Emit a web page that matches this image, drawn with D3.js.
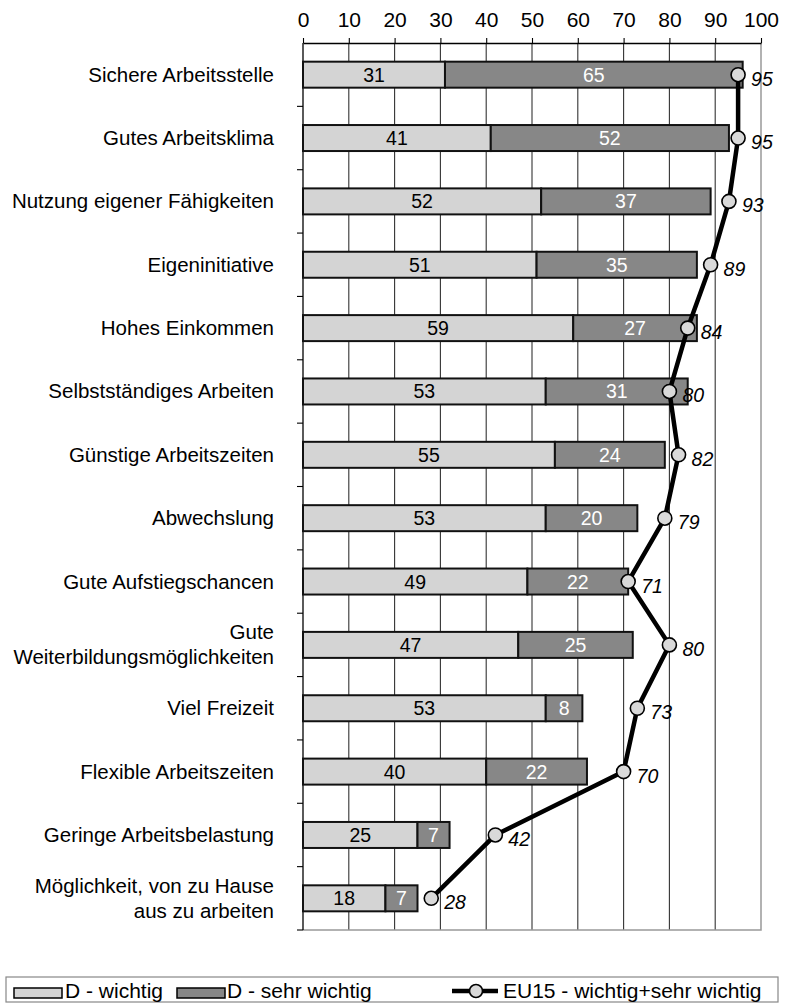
<!DOCTYPE html>
<html>
<head>
<meta charset="utf-8">
<script src="https://cdn.jsdelivr.net/npm/d3@7"></script>
<style>
  body { margin: 0; background: #fff; }
  text { font-family: "Liberation Sans", Arial, sans-serif; }
</style>
</head>
<body>
<script>
// Data
const categories = [
  "Sichere Arbeitsstelle",
  "Gutes Arbeitsklima",
  "Nutzung eigener Fähigkeiten",
  "Eigeninitiative",
  "Hohes Einkommen",
  "Selbstständiges Arbeiten",
  "Günstige Arbeitszeiten",
  "Abwechslung",
  "Gute Aufstiegschancen",
  "Gute\nWeiterbildungsmöglichkeiten",
  "Viel Freizeit",
  "Flexible Arbeitszeiten",
  "Geringe Arbeitsbelastung",
  "Möglichkeit, von zu Hause\naus zu arbeiten"
];
const wichtig = [31, 41, 52, 51, 59, 53, 55, 53, 49, 47, 53, 40, 25, 18];
const sehrWichtig = [65, 52, 37, 35, 27, 31, 24, 20, 22, 25, 8, 22, 7, 7];
const eu15 = [95, 95, 93, 89, 84, 80, 82, 79, 71, 80, 73, 70, 42, 28];
const xTicks = [0, 10, 20, 30, 40, 50, 60, 70, 80, 90, 100];
const legendLabels = ["D - wichtig", "D - sehr wichtig", "EU15 - wichtig+sehr wichtig"];

// Canvas and plot area
const WIDTH = 787;
const HEIGHT = 1005;
const plot = { left: 303, right: 761, top: 43, bottom: 930 };
const LIGHT = "#d4d4d4";
const DARK = "#878787";

function initCanvas() {
  return d3.select("body").append("svg")
    .attr("width", WIDTH)
    .attr("height", HEIGHT);
}

const svg = initCanvas();

const x = d3.scaleLinear().domain([0, 100]).range([plot.left, plot.right]);
const y = d3.scaleBand().domain(categories).range([plot.top, plot.bottom]).padding(0);
const barH = 26;
const cy = c => y(c) + y.bandwidth() / 2;

// gridlines
svg.append("g")
  .selectAll("line")
  .data(xTicks.filter(t => t > 0 && t < 100))
  .join("line")
  .attr("x1", d => x(d)).attr("x2", d => x(d))
  .attr("y1", plot.top).attr("y2", plot.bottom)
  .attr("stroke", "#333").attr("stroke-width", 1.1);

// plot border right / bottom
svg.append("path")
  .attr("d", `M${plot.right},${plot.top}V${plot.bottom}H${plot.left}`)
  .attr("fill", "none").attr("stroke", "#999").attr("stroke-width", 1.5);

// top axis
const xAxis = svg.append("g")
  .attr("transform", `translate(0,${plot.top})`)
  .call(d3.axisTop(x).tickValues(xTicks).tickSize(5).tickPadding(11).tickSizeOuter(0));
xAxis.select(".domain").attr("stroke", "#000").attr("stroke-width", 1.3);
xAxis.selectAll(".tick line").attr("stroke", "#000").attr("stroke-width", 1.1);
xAxis.selectAll(".tick text")
  .attr("font-family", "Liberation Sans, Arial, sans-serif")
  .attr("font-size", 21).attr("fill", "#000");

// left axis with ticks between categories
svg.append("line")
  .attr("x1", plot.left).attr("x2", plot.left)
  .attr("y1", plot.top).attr("y2", plot.bottom)
  .attr("stroke", "#000").attr("stroke-width", 1.3);
svg.append("g")
  .selectAll("line")
  .data(categories.slice(1).concat(["__end"]))
  .join("line")
  .attr("x1", plot.left - 6).attr("x2", plot.left)
  .attr("y1", (d, i) => i < categories.length - 1 ? y(d) : plot.bottom)
  .attr("y2", (d, i) => i < categories.length - 1 ? y(d) : plot.bottom)
  .attr("stroke", "#000").attr("stroke-width", 1.1);

// category labels
const catLabels = svg.append("g")
  .selectAll("text")
  .data(categories)
  .join("text")
  .attr("text-anchor", "end")
  .attr("font-size", 20.5)
  .attr("fill", "#000");
catLabels.each(function (d) {
  const lines = d.split("\n");
  const t = d3.select(this);
  lines.forEach((ln, i) => {
    t.append("tspan")
      .attr("x", 274)
      .attr("y", cy(d) + 7 + (i - (lines.length - 1) / 2) * 25)
      .text(ln);
  });
});

// stacked bars
const rows = categories.map((c, i) => ({ c, a: wichtig[i], b: sehrWichtig[i], e: eu15[i] }));

const barG = svg.append("g");
barG.selectAll("rect.light")
  .data(rows).join("rect")
  .attr("class", "light")
  .attr("x", x(0)).attr("width", d => x(d.a) - x(0))
  .attr("y", d => cy(d.c) - barH / 2).attr("height", barH)
  .attr("fill", LIGHT).attr("stroke", "#111").attr("stroke-width", 2);
barG.selectAll("rect.dark")
  .data(rows).join("rect")
  .attr("class", "dark")
  .attr("x", d => x(d.a)).attr("width", d => x(d.a + d.b) - x(d.a))
  .attr("y", d => cy(d.c) - barH / 2).attr("height", barH)
  .attr("fill", DARK).attr("stroke", "#111").attr("stroke-width", 2);

barG.selectAll("text.lv")
  .data(rows).join("text")
  .attr("class", "lv")
  .attr("x", d => x(d.a / 2)).attr("y", d => cy(d.c) + 7)
  .attr("text-anchor", "middle").attr("font-size", 19.5).attr("fill", "#000")
  .text(d => d.a);
barG.selectAll("text.dv")
  .data(rows).join("text")
  .attr("class", "dv")
  .attr("x", d => x(d.a + d.b / 2)).attr("y", d => cy(d.c) + 7)
  .attr("text-anchor", "middle").attr("font-size", 19.5).attr("fill", "#fff")
  .text(d => d.b);

// EU15 line
const line = d3.line().x(d => x(d.e)).y(d => cy(d.c));
svg.append("path")
  .datum(rows)
  .attr("d", line)
  .attr("fill", "none").attr("stroke", "#000").attr("stroke-width", 4.5)
  .attr("stroke-linejoin", "round");
svg.append("g")
  .selectAll("circle")
  .data(rows).join("circle")
  .attr("cx", d => x(d.e)).attr("cy", d => cy(d.c)).attr("r", 7)
  .attr("fill", "#d9d9d9").attr("stroke", "#000").attr("stroke-width", 1.6);
svg.append("g")
  .selectAll("text")
  .data(rows).join("text")
  .attr("x", d => x(d.e) + 13).attr("y", d => cy(d.c) + 11)
  .attr("font-size", 19.5).attr("font-style", "italic").attr("fill", "#000")
  .text(d => d.e);

// legend
const leg = svg.append("g");
leg.append("rect")
  .attr("x", 6).attr("y", 977).attr("width", 772).attr("height", 25)
  .attr("fill", "#fff").attr("stroke", "#888").attr("stroke-width", 1.2);
leg.append("rect").attr("x", 14).attr("y", 988).attr("width", 48).attr("height", 10)
  .attr("fill", LIGHT).attr("stroke", "#000").attr("stroke-width", 1.5);
leg.append("text").attr("x", 65).attr("y", 998).attr("font-size", 21).text(legendLabels[0]);
leg.append("rect").attr("x", 177).attr("y", 988).attr("width", 48).attr("height", 10)
  .attr("fill", DARK).attr("stroke", "#000").attr("stroke-width", 1.5);
leg.append("text").attr("x", 227).attr("y", 998).attr("font-size", 21).text(legendLabels[1]);
leg.append("line").attr("x1", 452).attr("x2", 498).attr("y1", 991).attr("y2", 991)
  .attr("stroke", "#000").attr("stroke-width", 4.5);
leg.append("circle").attr("cx", 476).attr("cy", 991).attr("r", 6.5)
  .attr("fill", "#d9d9d9").attr("stroke", "#000").attr("stroke-width", 1.6);
leg.append("text").attr("x", 503).attr("y", 998).attr("font-size", 21).text(legendLabels[2]);
</script>
</body>
</html>
